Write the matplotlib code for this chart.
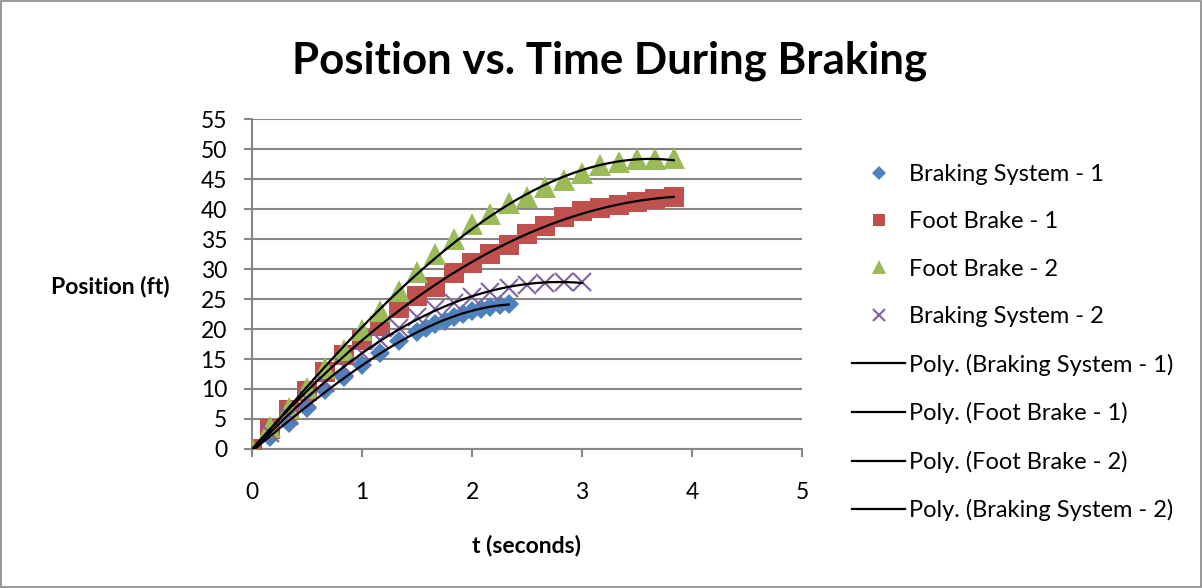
import matplotlib.pyplot as plt
import numpy as np

plt.rcParams['font.family'] = ['Lato', 'DejaVu Sans']

# time stamps (s) and positions (ft)
t_bs1 = [0, 0.167, 0.333, 0.5, 0.667, 0.833, 1.0, 1.167, 1.333, 1.5,
         1.583, 1.667, 1.75, 1.833, 1.917, 2.0, 2.083, 2.167, 2.25, 2.333]
y_bs1 = [0, 2.0, 4.3, 6.8, 9.8, 12.0, 14.0, 16.0, 18.0, 19.5,
         20.2, 20.8, 21.4, 22.0, 22.5, 23.0, 23.4, 23.7, 24.0, 24.2]

t_fb1 = [0, 0.167, 0.333, 0.5, 0.667, 0.833, 1.0, 1.167, 1.333, 1.5, 1.667, 1.833,
         2.0, 2.167, 2.333, 2.5, 2.667, 2.833, 3.0, 3.167, 3.333, 3.5, 3.667, 3.833]
y_fb1 = [0, 3.3, 6.5, 9.6, 12.8, 15.6, 18.2, 20.5, 23.5, 25.5, 27.0, 29.3,
         31.0, 32.5, 34.0, 35.8, 37.2, 38.7, 39.6, 40.2, 40.7, 41.2, 41.6, 42.0]

t_fb2 = [0, 0.167, 0.333, 0.5, 0.667, 0.833, 1.0, 1.167, 1.333, 1.5, 1.667, 1.833,
         2.0, 2.167, 2.333, 2.5, 2.667, 2.833, 3.0, 3.167, 3.333, 3.5, 3.667, 3.833]
y_fb2 = [0, 3.7, 6.8, 10.1, 13.5, 16.5, 19.8, 23.0, 26.3, 29.5, 32.5, 35.0,
         37.5, 39.2, 41.0, 42.0, 43.7, 44.8, 46.0, 47.3, 47.9, 48.3, 48.4, 48.5]

t_bs2 = [0, 0.167, 0.333, 0.5, 0.667, 0.833, 1.0, 1.167, 1.333, 1.5,
         1.667, 1.833, 2.0, 2.167, 2.333, 2.5, 2.667, 2.833, 3.0]
y_bs2 = [0, 2.7, 5.5, 8.3, 11.0, 13.6, 16.0, 18.2, 20.2, 22.0,
         23.3, 24.4, 25.3, 26.1, 26.8, 27.4, 27.6, 27.9, 27.9]

series = [
    ("Braking System - 1", t_bs1, y_bs1, 'D', '#4F81BD', 10.5),
    ("Foot Brake - 1", t_fb1, y_fb1, 's', '#C0504D', 14),
    ("Foot Brake - 2", t_fb2, y_fb2, '^', '#9BBB59', 15.5),
    ("Braking System - 2", t_bs2, y_bs2, 'x', '#8064A2', 13),
]

fig = plt.figure(figsize=(12.02, 5.88), dpi=100)
ax = fig.add_axes([0.2097, 0.2364, 0.4576, 0.5612])

# outer chart border
fig.patches.append(plt.Rectangle((0.001, 0.002), 0.998, 0.996, transform=fig.transFigure,
                                 fill=False, edgecolor='#868686', linewidth=1.2))

handles = []
for name, t, y, m, c, ms in series:
    h, = ax.plot(t, y, linestyle='none', marker=m, color=c, markersize=ms,
                 markeredgewidth=1.5 if m == 'x' else 0, label=name, zorder=3)
    handles.append(h)

for name, t, y, m, c, ms in series:
    coef = np.polyfit(t, y, 3)
    tt = np.linspace(min(t), max(t), 200)
    h, = ax.plot(tt, np.polyval(coef, tt), color='black', linewidth=1.6,
                 label='Poly. (' + name + ')', zorder=4)
    handles.append(h)

ax.set_xlim(0, 5)
ax.set_ylim(0, 55)
ax.set_xticks(range(0, 6))
ax.set_yticks(range(0, 56, 5))
ax.grid(axis='y', color='#868686', linewidth=1.5)
ax.set_axisbelow(True)
for s in ['top', 'right']:
    ax.spines[s].set_visible(False)
for s in ['left', 'bottom']:
    ax.spines[s].set_color('#868686')
    ax.spines[s].set_linewidth(1.5)
ax.tick_params(axis='both', colors='#868686', length=6, width=1.5,
               labelsize=16.5, labelcolor='black')
ax.tick_params(axis='x', pad=18)
ax.tick_params(axis='y', pad=12)

fig.text(0.507, 0.897, 'Position vs. Time During Braking', ha='center', va='center',
         fontsize=31.5, fontweight='bold')
fig.text(0.092, 0.513, 'Position (ft)', ha='center', va='center',
         fontsize=16.5, fontweight='bold')
fig.text(0.438, 0.073, 't (seconds)', ha='center', va='center',
         fontsize=16.5, fontweight='bold')

fig.legend(handles=handles, loc='upper left', bbox_to_anchor=(0.709, 0.7214),
           frameon=False, fontsize=17, labelspacing=1.12, handlelength=2.25,
           handletextpad=0.15, markerscale=0.65, borderaxespad=0, borderpad=0)

fig.savefig('out.png', dpi=100)
